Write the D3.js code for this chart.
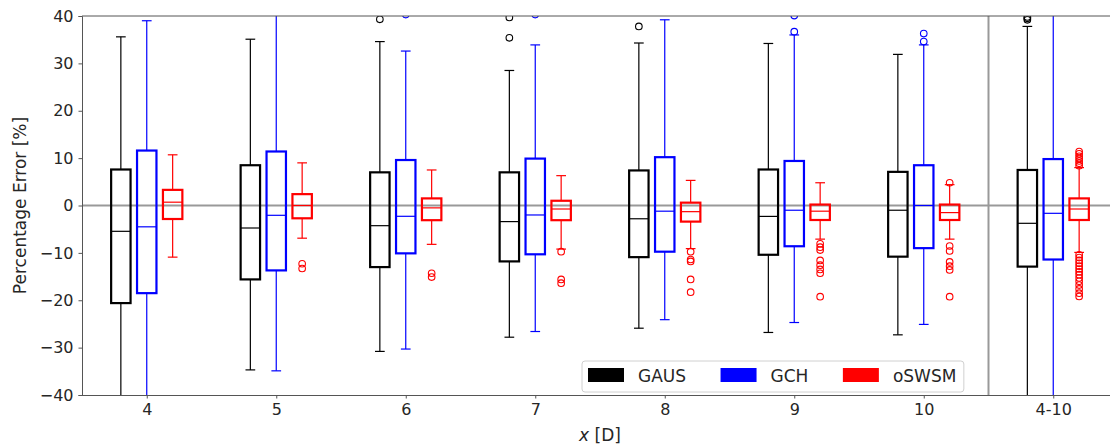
<!DOCTYPE html>
<html lang="en">
    <head>
        <title>Percentage Error box plot</title>
        <meta charset="UTF-8">
        <script src="https://d3js.org/d3.v7.min.js"></script>
        <style>
            body { margin: 0; background: #fff; }
            text { font-family: "DejaVu Sans", sans-serif; fill: #262626; }
        </style>
    </head>
    <body>
        <div id="chart"></div>
        <script>
        // categories on the x axis
        const categories = ["4", "5", "6", "7", "8", "9", "10", "4-10"];
        const yTicks = [-40, -30, -20, -10, 0, 10, 20, 30, 40];

        // box stats per category: [lower whisker, q1, median, q3, upper whisker]
        const gausStats = [
            [-45, -20.6, -5.45, 7.6, 35.6],
            [-34.7, -15.6, -4.75, 8.5, 35.1],
            [-30.8, -13.0, -4.26, 7.0, 34.6],
            [-27.8, -11.8, -3.4, 7.0, 28.5],
            [-25.9, -10.9, -2.8, 7.4, 34.3],
            [-26.8, -10.4, -2.3, 7.6, 34.2],
            [-27.3, -10.8, -1.0, 7.1, 31.9],
            [-45, -12.9, -3.76, 7.5, 37.8]
        ];
        const gausOutliers = [[], [], [39.3], [39.7, 35.4], [37.8], [], [], [39.2, 39.5, 39.8]];

        const gchStats = [
            [-45, -18.5, -4.5, 11.6, 39.0],
            [-34.9, -13.7, -2.07, 11.4, 45],
            [-30.3, -10.1, -2.28, 9.6, 32.6],
            [-26.6, -10.3, -2.0, 9.9, 33.9],
            [-24.1, -9.75, -1.2, 10.2, 39.2],
            [-24.7, -8.6, -1.0, 9.4, 36.0],
            [-25.1, -9.0, 0.0, 8.5, 33.9],
            [-45, -11.4, -1.65, 9.8, 45]
        ];
        const gchOutliers = [[], [], [40.3], [40.3], [], [40.1, 36.7], [36.3, 34.6], []];

        const oswsmStats = [
            [-10.9, -2.85, 0.7, 3.3, 10.7],
            [-6.9, -2.7, 0.0, 2.4, 9.0],
            [-8.2, -3.1, -0.5, 1.5, 7.5],
            [-9.2, -3.1, -0.74, 1.0, 6.3],
            [-9.1, -3.4, -1.3, 0.6, 5.3],
            [-7.1, -3.06, -1.2, 0.2, 4.8],
            [-7.1, -3.06, -1.5, 0.2, 4.4],
            [-9.9, -3.06, -0.74, 1.5, 8.0]
        ];
        const oswsmOutliers = [
            [],
            [-12.3, -13.3],
            [-14.3, -15.1],
            [-9.75, -15.6, -16.4],
            [-9.75, -11.4, -11.8, -15.6, -18.3],
            [-8.1, -8.8, -9.4, -11.6, -12.6, -13.5, -14.3, -19.25],
            [4.8, -8.55, -9.6, -11.9, -12.8, -13.6, -19.25],
            [11.4, 10.9, 10.4, 9.9, 9.4, 8.9, 8.4, -10.4, -11.0, -11.6, -12.2, -12.8, -13.4,
             -14.0, -14.6, -15.3, -16.0, -16.8, -17.6, -18.5, -19.2]
        ];

        const series = [
            {name: "GAUS", color: "#000000", stats: gausStats, outliers: gausOutliers, offset: -0.2},
            {name: "GCH", color: "#0000ff", stats: gchStats, outliers: gchOutliers, offset: 0},
            {name: "oSWSM", color: "#ff0000", stats: oswsmStats, outliers: oswsmOutliers, offset: 0.2}
        ];

        // dimensions
        const W = 1110, H = 446;
        const margin = {top: 16, left: 82};
        const plotRight = 1118, plotBottom = 395;
        const boxW = 0.15;

        const svg = d3.select("#chart")
          .append("svg")
            .attr("width", W)
            .attr("height", H);

        const x = d3.scaleLinear()
          .domain([0.5, categories.length + 0.5])
          .range([margin.left, plotRight]);

        const y = d3.scaleLinear()
          .domain([-40, 40])
          .range([plotBottom, margin.top]);

        svg.append("clipPath")
            .attr("id", "plotclip")
          .append("rect")
            .attr("x", margin.left)
            .attr("y", margin.top)
            .attr("width", plotRight - margin.left)
            .attr("height", plotBottom - margin.top);

        const plot = svg.append("g").attr("clip-path", "url(#plotclip)");

        // zero line and separator
        plot.append("line")
            .attr("x1", margin.left).attr("x2", plotRight)
            .attr("y1", y(0)).attr("y2", y(0))
            .attr("stroke", "#999").attr("stroke-width", 2);
        plot.append("line")
            .attr("x1", x(categories.length - 0.5)).attr("x2", x(categories.length - 0.5))
            .attr("y1", margin.top).attr("y2", plotBottom)
            .attr("stroke", "#999").attr("stroke-width", 2);

        // boxes
        series.forEach(function(s) {
            const g = plot.append("g");
            s.stats.forEach(function(d, i) {
                const c = i + 1 + s.offset;
                const bx0 = x(c - boxW / 2), bx1 = x(c + boxW / 2);
                const cx0 = x(c - boxW / 4), cx1 = x(c + boxW / 4);
                // whiskers
                g.append("line")
                    .attr("x1", x(c)).attr("x2", x(c))
                    .attr("y1", y(d[0])).attr("y2", y(d[1]))
                    .attr("stroke", s.color).attr("stroke-width", 1.2);
                g.append("line")
                    .attr("x1", x(c)).attr("x2", x(c))
                    .attr("y1", y(d[3])).attr("y2", y(d[4]))
                    .attr("stroke", s.color).attr("stroke-width", 1.2);
                // caps
                [d[0], d[4]].forEach(function(v) {
                    g.append("line")
                        .attr("x1", cx0).attr("x2", cx1)
                        .attr("y1", y(v)).attr("y2", y(v))
                        .attr("stroke", s.color).attr("stroke-width", 1.2);
                });
                // box
                g.append("rect")
                    .attr("x", bx0)
                    .attr("y", y(d[3]))
                    .attr("width", bx1 - bx0)
                    .attr("height", y(d[1]) - y(d[3]))
                    .attr("fill", "none")
                    .attr("stroke", s.color)
                    .attr("stroke-width", 2.2);
                // median
                g.append("line")
                    .attr("x1", bx0).attr("x2", bx1)
                    .attr("y1", y(d[2])).attr("y2", y(d[2]))
                    .attr("stroke", s.color).attr("stroke-width", 1.2);
                // fliers
                g.selectAll(null)
                  .data(s.outliers[i])
                  .enter()
                  .append("circle")
                    .attr("cx", x(c))
                    .attr("cy", function(v) { return y(v); })
                    .attr("r", 3.3)
                    .attr("fill", "none")
                    .attr("stroke", s.color)
                    .attr("stroke-width", 1.1);
            });
        });

        // spines
        svg.append("line")
            .attr("x1", margin.left).attr("x2", plotRight)
            .attr("y1", margin.top).attr("y2", margin.top)
            .attr("stroke", "#555").attr("stroke-width", 1);

        // y axis
        const yAxis = svg.append("g")
            .attr("transform", `translate(${margin.left},0)`)
            .call(d3.axisLeft(y).tickValues(yTicks).tickSize(3.5).tickPadding(5)
                .tickFormat(function(d) { return d < 0 ? "\u2212" + Math.abs(d) : d; }));
        yAxis.select(".domain").attr("stroke", "#555");
        yAxis.selectAll(".tick line").attr("stroke", "#555");
        yAxis.selectAll("text").attr("font-size", 16).attr("font-family", "DejaVu Sans").attr("fill", "#262626");

        // x axis
        const xAxis = svg.append("g")
            .attr("transform", `translate(0,${plotBottom})`)
            .call(d3.axisBottom(x).tickValues(d3.range(1, categories.length + 1)).tickSize(3.5).tickPadding(5)
                .tickFormat(function(d) { return categories[d - 1]; }));
        xAxis.select(".domain").attr("stroke", "#555").attr("d", `M${margin.left},0.5H${plotRight}`);
        xAxis.selectAll(".tick line").attr("stroke", "#555");
        xAxis.selectAll("text").attr("font-size", 16).attr("font-family", "DejaVu Sans").attr("fill", "#262626");

        // axis titles
        const xl = svg.append("text")
            .attr("x", (margin.left + plotRight) / 2)
            .attr("y", 441)
            .attr("text-anchor", "middle")
            .attr("font-size", 17);
        xl.append("tspan").attr("font-style", "italic").text("x");
        xl.append("tspan").text(" [D]");

        svg.append("text")
            .attr("transform", `translate(26,${(margin.top + plotBottom) / 2}) rotate(-90)`)
            .attr("text-anchor", "middle")
            .attr("font-size", 17)
            .text("Percentage Error [%]");

        // legend
        const legend = svg.append("g");
        const frame = legend.append("rect")
            .attr("rx", 3)
            .attr("fill", "#fff")
            .attr("fill-opacity", 0.85)
            .attr("stroke", "#d0d0d0")
            .attr("stroke-width", 1);
        let lx = 588;
        series.forEach(function(s) {
            legend.append("rect")
                .attr("x", lx).attr("y", 368)
                .attr("width", 36).attr("height", 14)
                .attr("fill", s.color);
            const t = legend.append("text")
                .attr("x", lx + 50).attr("y", 382)
                .attr("font-size", 17)
                .text(s.name);
            lx += 50 + t.node().getComputedTextLength() + 34.5;
        });
        frame.attr("x", 582).attr("y", 361)
            .attr("width", lx - 34.5 + 7.5 - 582).attr("height", 31);
        </script>
    </body>
</html>
